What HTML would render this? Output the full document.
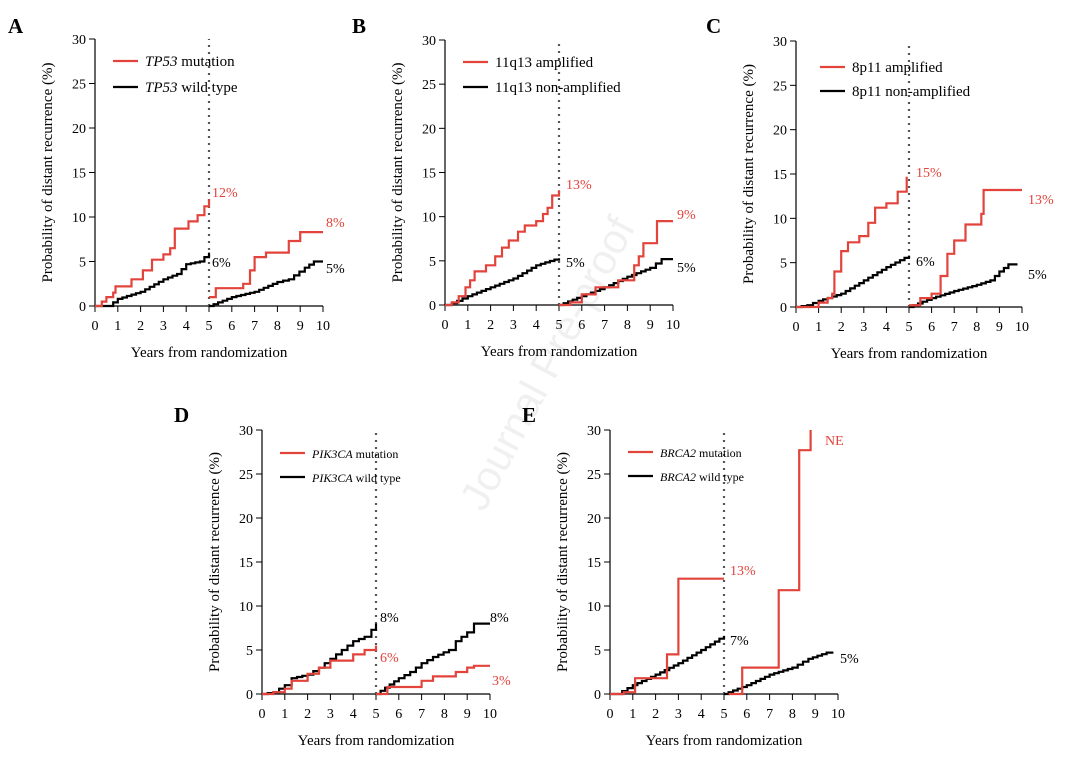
<!DOCTYPE html>
<html><head><meta charset="utf-8"><style>
body{margin:0;background:#fff;}
svg{display:block;font-family:"Liberation Serif",serif;}
</style></head><body>
<svg id="s" width="1080" height="760" xmlns="http://www.w3.org/2000/svg"></svg>
<script>
const S=document.getElementById('s');let o='';
const R='#e2443c';
function steps(ox,oy,w,h,pts,col,sw){let d='';let px=pts[0][0],py=pts[0][1];d+=`M${ox+px*w/10},${oy-py*h/30}`;
for(let i=1;i<pts.length;i++){const [x,y]=pts[i];d+=`H${(ox+x*w/10).toFixed(1)}V${(oy-y*h/30).toFixed(1)}`;}
o+=`<path d="${d}" fill="none" stroke="${col}" stroke-width="${sw}" stroke-linejoin="miter"/>`;}
function interp(k){const r=[[k[0][0],k[0][1]]];for(let i=1;i<k.length;i++){const [x0,y0]=k[i-1],[x1,y1]=k[i];const n=Math.max(1,Math.round((x1-x0)/0.22));for(let j=1;j<=n;j++)r.push([x0+(x1-x0)*j/n,y0+(y1-y0)*j/n]);}return r;}
function panel(p){const {ox,oy,w,h}=p;
o+=`<line x1="${ox}" y1="${oy}" x2="${ox}" y2="${oy-h}" stroke="#000" stroke-width="1.2"/>`;
o+=`<line x1="${ox}" y1="${oy}" x2="${ox+w}" y2="${oy}" stroke="#000" stroke-width="1.2"/>`;
for(let v=0;v<=30;v+=5){const y=oy-v*h/30;o+=`<line x1="${ox-6}" y1="${y}" x2="${ox}" y2="${y}" stroke="#000"/><text x="${ox-9}" y="${y+5}" font-size="14" text-anchor="end">${v}</text>`;}
for(let v=0;v<=10;v++){const x=ox+v*w/10;o+=`<line x1="${x}" y1="${oy}" x2="${x}" y2="${oy+6}" stroke="#000"/><text x="${x}" y="${oy+24}" font-size="14" text-anchor="middle">${v}</text>`;}
const dx=ox+w/2;o+=`<line x1="${dx}" y1="${oy}" x2="${dx}" y2="${oy-h}" stroke="#555" stroke-width="2.2" stroke-dasharray="2,5"/>`;
o+=`<text x="${dx}" y="${oy+51}" font-size="15" text-anchor="middle">Years from randomization</text>`;
o+=`<text transform="translate(${ox-43},${oy-h/2}) rotate(-90)" font-size="15" text-anchor="middle">Probability of distant recurrence (%)</text>`;
o+=`<text x="${p.lx}" y="${p.ly}" font-size="21" font-weight="bold">${p.L}</text>`;
const fs=p.fs||15;
o+=`<line x1="${p.gx}" y1="${p.gy1}" x2="${p.gx+25}" y2="${p.gy1}" stroke="${R}" stroke-width="2.2"/><text x="${p.gx+32}" y="${p.gy1+5}" font-size="${fs}">${p.t1}</text>`;
o+=`<line x1="${p.gx}" y1="${p.gy2}" x2="${p.gx+25}" y2="${p.gy2}" stroke="#000" stroke-width="2.2"/><text x="${p.gx+32}" y="${p.gy2+5}" font-size="${fs}">${p.t2}</text>`;
p.bk.forEach(k=>steps(ox,oy,w,h,interp(k),'#000',2.2));
p.rd.forEach(k=>steps(ox,oy,w,h,k,R,2.2));
p.lab.forEach(([x,y,t,c])=>o+=`<text x="${x}" y="${y+5}" font-size="14" fill="${c}">${t}</text>`);}
const K='#000';
panel({ox:95,oy:306,w:228,h:267,L:'A',lx:8,ly:33,gx:113,gy1:61,gy2:87,t1:'<tspan font-style="italic">TP53</tspan> mutation',t2:'<tspan font-style="italic">TP53</tspan> wild type',
bk:[[[0,0],[0.6,0],[1,0.8],[2,1.6],[3,3],[3.6,3.6],[4,4.7],[4.6,5],[5,6]],[[5,0],[6,1],[7,1.6],[8,2.7],[8.5,3],[9.2,4.3],[9.6,5],[10,5]]],
rd:[[[0,0],[0.3,0.5],[0.5,1],[0.8,1.5],[0.9,2.2],[1.6,3],[2.1,4],[2.5,5.2],[3,5.8],[3.3,6.5],[3.5,8.7],[4.1,9.5],[4.5,10.2],[4.8,11.2],[5,12]],[[5,1],[5.3,2],[6.5,2.5],[6.8,4],[7,5.5],[7.5,6],[8.5,7.3],[9,8.3],[10,8.3]]],
lab:[[212,192,'12%',R],[212,262,'6%',K],[326,222,'8%',R],[326,268,'5%',K]]});
panel({ox:445,oy:305,w:228,h:265,L:'B',lx:352,ly:33,gx:463,gy1:62,gy2:87,t1:'11q13 amplified',t2:'11q13 non-amplified',
bk:[[[0,0],[0.3,0.2],[1,1],[2,2],[3,3],[4,4.5],[5,5.3]],[[5,0],[6,1],[7,2],[8,3.2],[9,4.2],[9.5,5.2],[10,5.2]]],
rd:[[[0,0],[0.3,0.3],[0.6,1],[0.9,2],[1.1,2.8],[1.3,3.8],[1.8,4.5],[2.2,5.5],[2.5,6.5],[2.8,7.3],[3.2,8.3],[3.5,9],[4,9.5],[4.3,10.3],[4.5,11],[4.7,12.4],[5,13]],[[5,0],[5.5,0.3],[6,1.2],[6.6,2],[7.6,2.8],[8.3,4.5],[8.5,5.5],[8.7,7],[9.3,9.5],[10,9.5]]],
lab:[[566,184,'13%',R],[566,262,'5%',K],[677,214,'9%',R],[677,267,'5%',K]]});
panel({ox:796,oy:307,w:226,h:266,L:'C',lx:706,ly:33,gx:820,gy1:67,gy2:91,t1:'8p11 amplified',t2:'8p11 non-amplified',
bk:[[[0,0],[0.5,0.2],[1,0.7],[2,1.5],[3,3],[4,4.5],[5,5.8]],[[5,0],[6,1],[7,1.8],[8,2.5],[8.6,3],[9,4],[9.4,4.8],[9.8,4.8]]],
rd:[[[0,0],[1,0.5],[1.4,1],[1.6,1.5],[1.7,4],[2,6.3],[2.3,7.3],[2.8,8],[3.2,9.5],[3.5,11.2],[4,11.7],[4.5,13],[4.9,14.7]],[[5,0.2],[5.5,1],[6,1.5],[6.4,3.5],[6.7,6],[7,7.5],[7.5,9.3],[8.2,10.5],[8.3,13.2],[10,13.2]]],
lab:[[916,172,'15%',R],[916,261,'6%',K],[1028,199,'13%',R],[1028,274,'5%',K]]});
panel({ox:262,oy:694,w:228,h:264,L:'D',lx:174,ly:422,gx:280,gy1:453,gy2:477,fs:12,t1:'<tspan font-style="italic">PIK3CA</tspan> mutation',t2:'<tspan font-style="italic">PIK3CA</tspan> wild type',
bk:[[[0,0],[0.5,0.2],[1,1],[1.3,1.8],[2,2.2],[2.5,3],[3,4],[3.5,5],[4,6],[4.5,6.5],[4.8,7.3],[5,8]],[[5,0],[6,1.8],[6.5,2.5],[7,3.5],[7.5,4.2],[8.2,5],[8.5,6],[9,7],[9.3,8],[10,8]]],
rd:[[[0,0],[0.5,0.2],[1,0.6],[1.3,1.5],[2,2.3],[2.5,3],[3,3.8],[4,4.5],[4.5,5],[5,5.5]],[[5,0],[5.5,0.8],[7,1.5],[7.5,2],[8.5,2.5],[9,3],[9.3,3.2],[10,3.2]]],
lab:[[380,617,'8%',K],[380,657,'6%',R],[490,617,'8%',K],[492,680,'3%',R]]});
panel({ox:610,oy:694,w:228,h:264,L:'E',lx:522,ly:422,gx:628,gy1:452,gy2:476,fs:12,t1:'<tspan font-style="italic">BRCA2</tspan> mutation',t2:'<tspan font-style="italic">BRCA2</tspan> wild type',
bk:[[[0,0],[0.3,0],[1,1],[2,2.2],[3,3.5],[4,5],[5,6.6]],[[5,0],[6,1],[7,2.2],[8,3],[8.7,4],[9.5,4.7],[9.8,4.7]]],
rd:[[[0,0],[0.6,0.2],[1.1,1.8],[2.5,4.5],[3,13.1],[5,13.1]],[[5.2,0],[5.8,3],[7.4,11.8],[8.3,27.7],[8.8,30]]],
lab:[[730,570,'13%',R],[730,640,'7%',K],[825,440,'NE',R],[840,658,'5%',K]]});
o+=`<text transform="translate(560,370) rotate(-62)" font-size="42" fill="#000" fill-opacity="0.06" text-anchor="middle" font-family="Liberation Sans,sans-serif">Journal Pre-proof</text>`;
S.innerHTML=o;
</script>
</body></html>
